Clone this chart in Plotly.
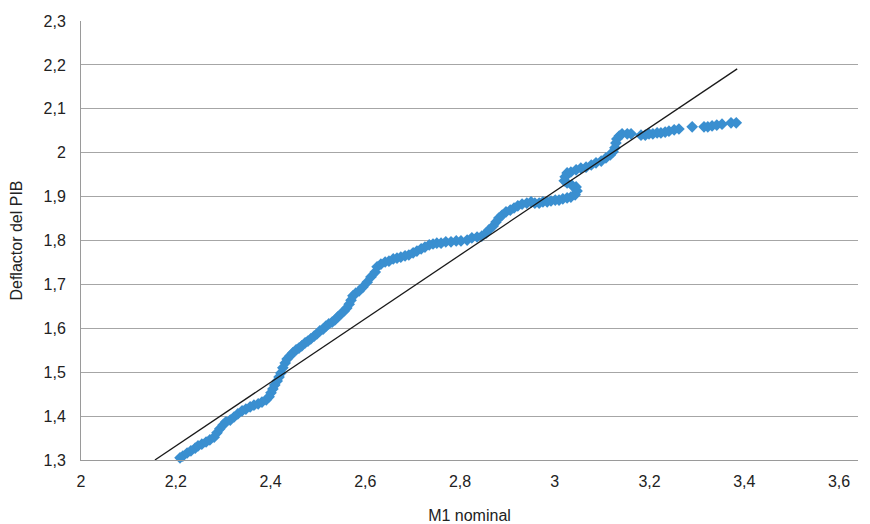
import plotly.graph_objects as go

# M1 nominal (x) and Deflactor del PIB (y)
m1 = [2.203, 2.209, 2.215, 2.224, 2.232, 2.241, 2.247, 2.255, 2.264, 2.272,
      2.281, 2.287, 2.293, 2.300, 2.306, 2.315, 2.323, 2.331, 2.340, 2.348,
      2.357, 2.365, 2.374, 2.382, 2.391, 2.397, 2.401, 2.405, 2.409, 2.414,
      2.418, 2.422, 2.426, 2.431, 2.435, 2.441, 2.447, 2.454, 2.460, 2.466,
      2.473, 2.479, 2.485, 2.492, 2.498, 2.504, 2.511, 2.517, 2.523, 2.530,
      2.536, 2.542, 2.549, 2.555, 2.561, 2.566, 2.570, 2.574, 2.580, 2.587,
      2.595, 2.604, 2.612, 2.621, 2.625, 2.633, 2.642, 2.650, 2.659, 2.667,
      2.675, 2.684, 2.692, 2.701, 2.709, 2.718, 2.726, 2.735, 2.743, 2.751,
      2.760, 2.770, 2.781, 2.792, 2.802, 2.815, 2.825, 2.836, 2.846, 2.855,
      2.861, 2.870, 2.876, 2.882, 2.889, 2.897, 2.906, 2.914, 2.922, 2.931,
      2.941, 2.950, 2.958, 2.967, 2.975, 2.984, 2.992, 3.001, 3.009, 3.017,
      3.026, 3.034, 3.043, 3.047, 3.045, 3.036, 3.026, 3.020, 3.022, 3.026,
      3.034, 3.045, 3.055, 3.066, 3.077, 3.087, 3.098, 3.108, 3.117, 3.123,
      3.127, 3.129, 3.131, 3.136, 3.142, 3.153, 3.161, 3.182, 3.191, 3.199,
      3.207, 3.216, 3.224, 3.233, 3.241, 3.252, 3.262, 3.290, 3.315, 3.323,
      3.332, 3.342, 3.353, 3.372, 3.383]

deflactor = [1.298, 1.305, 1.309, 1.316, 1.321, 1.327, 1.332, 1.336, 1.341, 1.346,
             1.352, 1.362, 1.371, 1.380, 1.387, 1.391, 1.398, 1.405, 1.412, 1.416,
             1.421, 1.425, 1.428, 1.432, 1.437, 1.444, 1.453, 1.462, 1.471, 1.480,
             1.489, 1.498, 1.510, 1.521, 1.530, 1.537, 1.544, 1.551, 1.555, 1.560,
             1.567, 1.571, 1.576, 1.582, 1.587, 1.594, 1.598, 1.605, 1.610, 1.614,
             1.619, 1.626, 1.633, 1.639, 1.646, 1.655, 1.664, 1.674, 1.680, 1.685,
             1.694, 1.705, 1.717, 1.728, 1.740, 1.746, 1.751, 1.753, 1.758, 1.760,
             1.762, 1.765, 1.767, 1.772, 1.776, 1.781, 1.785, 1.790, 1.792, 1.794,
             1.794, 1.797, 1.797, 1.799, 1.799, 1.801, 1.806, 1.808, 1.810, 1.817,
             1.824, 1.833, 1.842, 1.851, 1.858, 1.865, 1.869, 1.874, 1.879, 1.883,
             1.885, 1.888, 1.885, 1.885, 1.888, 1.888, 1.890, 1.892, 1.892, 1.895,
             1.897, 1.899, 1.904, 1.913, 1.922, 1.926, 1.931, 1.936, 1.945, 1.954,
             1.956, 1.961, 1.965, 1.967, 1.972, 1.977, 1.981, 1.988, 1.995, 2.002,
             2.011, 2.022, 2.031, 2.038, 2.043, 2.043, 2.043, 2.040, 2.040, 2.043,
             2.043, 2.045, 2.045, 2.047, 2.049, 2.052, 2.054, 2.059, 2.059, 2.059,
             2.061, 2.063, 2.065, 2.068, 2.068]

# Linear trend line endpoints
trend_x = [2.156, 3.385]
trend_y = [1.300, 2.191]

x_ticks = [2.0, 2.2, 2.4, 2.6, 2.8, 3.0, 3.2, 3.4, 3.6]
y_ticks = [1.3, 1.4, 1.5, 1.6, 1.7, 1.8, 1.9, 2.0, 2.1, 2.2, 2.3]

fig = go.Figure()
fig.add_trace(go.Scatter(
    x=m1, y=deflactor, mode="markers",
    marker=dict(symbol="diamond", size=9, color="#3a8fd0", line=dict(width=0)),
    showlegend=False, cliponaxis=False,
))
fig.add_trace(go.Scatter(
    x=trend_x, y=trend_y, mode="lines",
    line=dict(color="#1a1a1a", width=1.3),
    showlegend=False,
))

# page body adds an 8px offset, so the figure is sized to fit the window
fig.update_layout(
    width=862, height=516,
    margin=dict(l=73, r=12, t=13, b=64),
    paper_bgcolor="white", plot_bgcolor="white",
    separators=",.",
    font=dict(family="Liberation Sans, Arial, sans-serif", size=16, color="#222222"),
    xaxis=dict(
        range=[2, 3.64], tickvals=x_ticks, showgrid=False, zeroline=False,
        showline=True, linecolor="#9a9a9a", linewidth=1, automargin=False,
        ticks="", ticklabelstandoff=7,
        title=dict(text="M1 nominal", standoff=21, font=dict(size=16)),
    ),
    yaxis=dict(
        range=[1.3, 2.3], tickvals=y_ticks, showgrid=True, gridcolor="#a6a6a6",
        gridwidth=1, zeroline=False, automargin=False,
        showline=True, linecolor="#9a9a9a", linewidth=1,
        ticks="", ticklabelstandoff=11,
        title=dict(text="Deflactor del PIB", standoff=17, font=dict(size=16)),
    ),
)

fig.write_html("out.html")
